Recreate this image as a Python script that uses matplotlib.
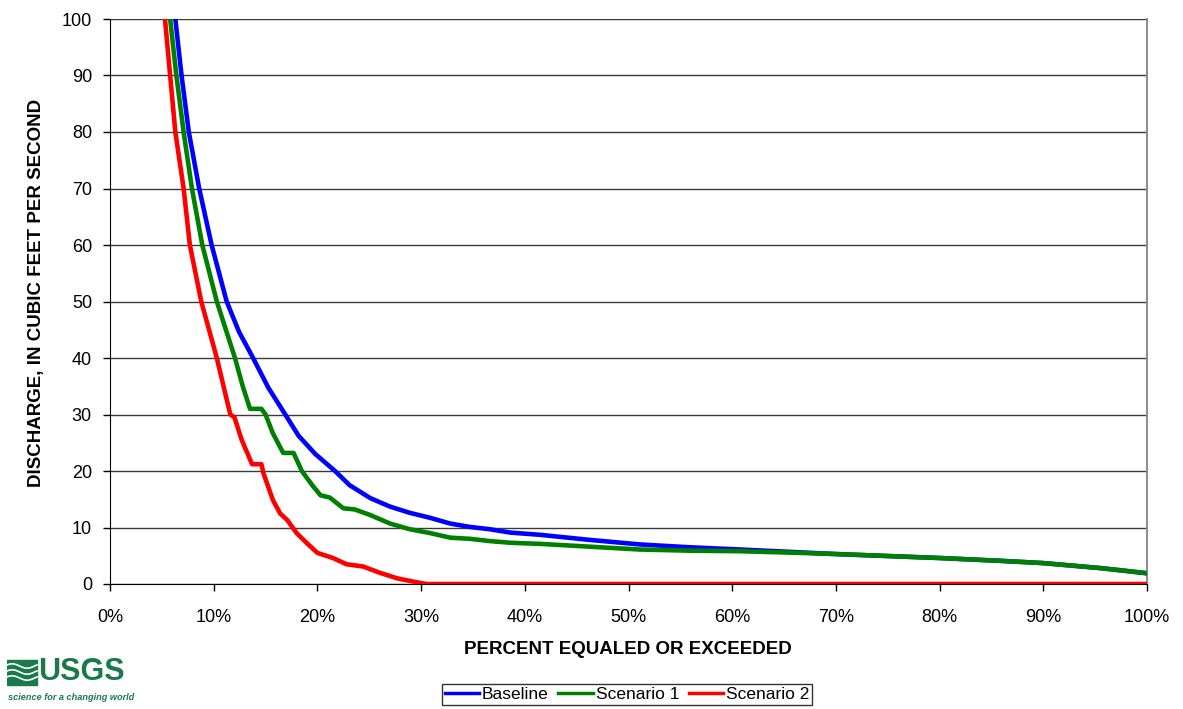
import matplotlib
matplotlib.use("Agg")
import matplotlib.pyplot as plt
from matplotlib.patches import Rectangle
import numpy as np

plt.rcParams['font.family'] = ['Liberation Sans', 'DejaVu Sans']

# ---- data (percent equaled or exceeded, discharge cfs) ----
base_pct = [6.3, 6.9, 7.6, 8.6, 9.8, 11.25, 12.45, 13.8, 15.25, 16.9, 18.2, 19.8,
            21.7, 23.1, 25.1, 27.0, 28.9, 30.9, 32.8, 34.7, 36.6, 38.6, 41.5, 46.3,
            51.1, 55.9, 60.8, 66.6, 70.0, 80.0, 85.9, 90.0, 95.6, 100.0]
base_q = [100, 90, 80, 70, 60, 50, 44.6, 40, 34.8, 30, 26.2, 23.0,
          20.0, 17.5, 15.2, 13.7, 12.6, 11.7, 10.7, 10.1, 9.7, 9.1, 8.7, 7.8,
          7.0, 6.5, 6.1, 5.6, 5.3, 4.6, 4.1, 3.7, 2.8, 1.9]

s1_pct = [5.8, 6.4, 7.1, 7.9, 8.9, 10.3, 12.05, 12.8, 13.5, 14.6, 15.0, 15.7, 16.7,
          17.7, 18.5, 19.5, 20.3, 21.2, 22.5, 23.6, 25.1, 27.0, 28.9, 30.9, 32.8,
          34.7, 36.6, 38.6, 41.5, 46.3, 51.1, 55.9, 60.8, 66.6, 70.0, 80.0, 85.9,
          90.0, 95.6, 100.0]
s1_q = [100, 90, 80, 70, 60, 50, 40, 35, 31, 31, 30, 26.7, 23.2,
        23.2, 20, 17.5, 15.7, 15.3, 13.4, 13.2, 12.2, 10.7, 9.7, 9.0, 8.2,
        8.0, 7.6, 7.3, 7.1, 6.6, 6.1, 5.9, 5.8, 5.5, 5.3, 4.6, 4.1,
        3.7, 2.8, 1.9]

s2_pct = [5.3, 5.8, 6.3, 7.1, 7.7, 8.8, 10.3, 11.6, 12.0, 12.7, 13.7, 14.6, 14.8,
          15.7, 16.4, 17.1, 18.0, 19.0, 20.0, 21.5, 22.8, 24.4, 26.0, 27.7, 29.6,
          30.5, 100.0]
s2_q = [100, 90, 80, 70, 60, 50, 40, 30, 29.5, 25.5, 21.2, 21.2, 19.6,
        14.9, 12.5, 11.3, 9.0, 7.2, 5.5, 4.6, 3.5, 3.1, 2.0, 1.0, 0.3,
        0.0, 0.0]

series_names = ["Baseline", "Scenario 1", "Scenario 2"]
series_colors = ["#0000FF", "#008000", "#FF0000"]

x_ticks = np.arange(0, 101, 10)
x_tick_labels = [f"{v}%" for v in x_ticks]
y_ticks = np.arange(0, 101, 10)

W, H = 1183, 709
fig = plt.figure(figsize=(W / 100, H / 100), dpi=100)
ax = fig.add_axes([110 / W, 1 - 584 / H, (1147 - 110) / W, (584 - 19) / H])

for yv in y_ticks:
    ax.axhline(yv, color="#3a3a3a", lw=1.0, zorder=1)

lines = []
for pct, q, name, c in zip([base_pct, s1_pct, s2_pct], [base_q, s1_q, s2_q],
                           series_names, series_colors):
    ln, = ax.plot(pct, q, color=c, lw=3.3, label=name, zorder=3,
                  solid_joinstyle='round', clip_on=True)
    lines.append(ln)

ax.set_xlim(0, 100)
ax.set_ylim(0, 100)
ax.set_xticks(x_ticks)
ax.set_xticklabels(x_tick_labels)
ax.set_yticks(y_ticks)
ax.tick_params(axis='both', direction='out', length=5, width=1, colors='black',
               labelsize=13)
ax.tick_params(axis='y', pad=8)
ax.tick_params(axis='x', pad=13)

ax.spines['top'].set_visible(False)
ax.spines['right'].set_color('#909090')
ax.spines['right'].set_linewidth(1.5)
ax.spines['left'].set_color('black')
ax.spines['bottom'].set_color('black')

fig.text(628 / W, 1 - 650 / H, "PERCENT EQUALED OR EXCEEDED", ha='center',
         va='center', fontsize=13.5, fontweight='bold')
fig.text(37 / W, 1 - 293 / H, "DISCHARGE, IN CUBIC FEET PER SECOND", ha='center',
         va='center', rotation=90, fontsize=13.5, fontweight='bold')

leg = fig.legend(handles=lines, loc='center', bbox_to_anchor=(627 / W, 1 - 694.5 / H),
                 ncol=3, fontsize=12.5, frameon=True, fancybox=False,
                 edgecolor='black', handlelength=2.0, handletextpad=0.15,
                 columnspacing=0.55, borderpad=0.15, borderaxespad=0)
leg.get_frame().set_linewidth(1.0)
for h in leg.get_lines():
    h.set_linewidth(2.5)

# USGS logo
green = "#1a7a4c"
lax = fig.add_axes([7 / W, 1 - 705 / H, 135 / W, 50 / H])
lax.set_xlim(0, 135)
lax.set_ylim(0, 50)
lax.axis('off')
lax.add_patch(Rectangle((0, 20), 30, 25, color=green))
xx = np.linspace(0, 30, 50)
for off in [27, 33, 39]:
    lax.plot(xx, off + 2.2 * np.sin(xx / 30 * 2 * np.pi + 0.5), color='white', lw=1.2)
lax.text(31, 32.5, "USGS", fontsize=22, fontweight='bold', color=green,
         ha='left', va='center')
lax.text(1, 7, "science for a changing world", fontsize=6.6, style='italic',
         fontweight='bold', color=green, ha='left', va='center')

fig.savefig("out.png", dpi=100)
